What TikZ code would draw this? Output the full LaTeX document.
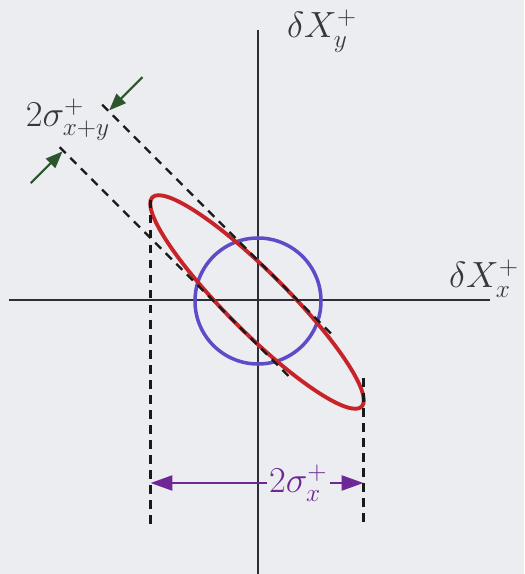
\documentclass[tikz,border=0pt]{standalone}
\usetikzlibrary{arrows.meta,positioning,calc}

\definecolor{bggray}{RGB}{236,237,240}
\definecolor{axisgray}{RGB}{45,45,55}
\definecolor{textgray}{RGB}{55,55,60}
\definecolor{ringblue}{RGB}{95,75,200}
\definecolor{ellred}{RGB}{200,35,40}
\definecolor{arrgreen}{RGB}{45,85,45}
\definecolor{arrpurple}{RGB}{110,40,150}

\begin{document}
\begin{tikzpicture}[
  x=0.2mm, y=0.2mm,
  font=\fontsize{20}{24}\selectfont,
  axis/.style={draw=axisgray, line width=1.4pt},
  ring/.style={draw=ringblue, line width=2pt},
  squeezed/.style={draw=ellred, line width=2.2pt},
  guide/.style={draw=black!90, line width=1.3pt, dash pattern=on 1.7mm off 1.3mm},
  warr/.style={-{Triangle[length=3.4mm, width=2.6mm]}, line width=1.2pt, draw=arrgreen, fill=arrgreen},
  sarr/.style={-{Triangle[length=4.4mm, width=3mm]}, line width=1.4pt, draw=arrpurple, fill=arrpurple},
  lab/.style={text=textgray, inner sep=1pt}
]

\fill[bggray] (-258,-274) rectangle (266,300);
\useasboundingbox (-258,-274) rectangle (266,300);

% ---------------- quadrature axes ----------------
\coordinate (xl) at (-249,0);
\coordinate (xr) at (232,0);
\coordinate (yb) at (0,-274);
\coordinate (yt) at (0,270);
\draw[axis] (xl) -- (xr);
\draw[axis] (yb) -- (yt);
\node[lab, anchor=base west] (xlab) at (189,12) {$\delta X_x^+$};
\node[lab, anchor=base west] (ylab) at (27,262) {$\delta X_y^+$};

% ---------------- vacuum and squeezed state ----------------
\draw[ring] (0,-1) circle[radius=63];

\begin{scope}[shift={(-1,-2)}, rotate=-45]
  \draw[squeezed] (0,0) ellipse[x radius=148, y radius=30];
  \coordinate (ua) at (-249,30);
  \coordinate (ub) at (77,30);
  \coordinate (la) at (-249,-30);
  \coordinate (lb) at (77,-30);
  \coordinate (ut) at (-240,78);
  \coordinate (uh) at (-240,31);
  \coordinate (lt) at (-244,-76);
  \coordinate (lh) at (-244,-31);
\end{scope}

\draw[guide] (ua) -- (ub);
\draw[guide] (la) -- (lb);
\draw[warr] (ut) -- (uh);
\draw[warr] (lt) -- (lh);
\node[lab] (sxy) at (-190,180) {$2\sigma_{x+y}^+$};

% ---------------- projection onto x ----------------
\coordinate (pl) at (-107.5,100);
\coordinate (pl2) at (-107.5,-228);
\coordinate (pr) at (105.5,-78);
\coordinate (pr2) at (105.5,-228);
\draw[guide] (pl) -- (pl2);
\draw[guide] (pr) -- (pr2);

\node[lab, text=arrpurple, anchor=west] (sx) at (9,-183) {$2\sigma_x^+$};
\draw[sarr] (sx.west) -- (pl |- sx.west);
\draw[sarr] (sx.east) -- (pr |- sx.east);

\end{tikzpicture}
\end{document}
